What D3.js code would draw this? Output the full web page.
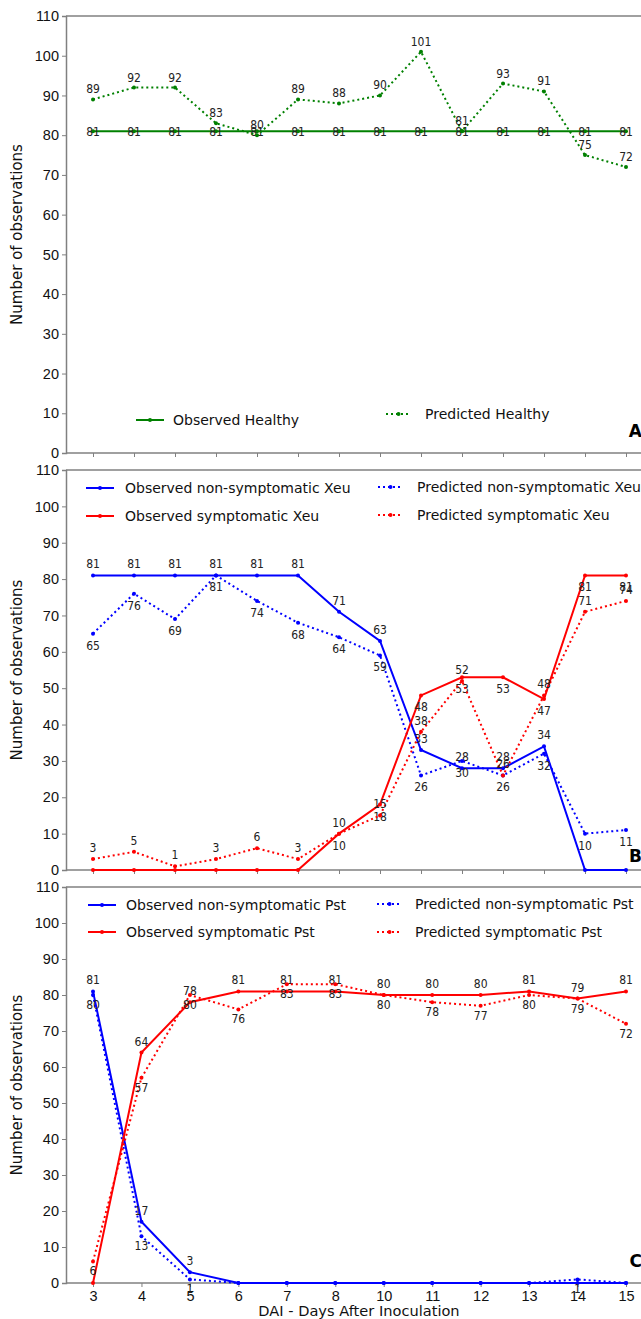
<!DOCTYPE html>
<html>
<head>
<meta charset="utf-8">
<script src="https://cdn.jsdelivr.net/npm/d3@7"></script>
<style>
  body { margin: 0; background: #fff; }
  svg { display: block; font-family: "DejaVu Sans", sans-serif; }
</style>
</head>
<body>
<svg id="chart" width="641" height="1319"></svg>
<script>
// panel A (14 time points, tick labels hidden)
const observedHealthy = [81, 81, 81, 81, 81, 81, 81, 81, 81, 81, 81, 81, 81, 81];
const predictedHealthy = [89, 92, 92, 83, 80, 89, 88, 90, 101, 81, 93, 91, 75, 72];

// panel B - Xeu
const obsNonSympXeu = [81, 81, 81, 81, 81, 81, 71, 63, 33, 28, 28, 34, 0, 0];
const predNonSympXeu = [65, 76, 69, 81, 74, 68, 64, 59, 26, 30, 26, 32, 10, 11];
const obsSympXeu = [0, 0, 0, 0, 0, 0, 10, 18, 48, 53, 53, 47, 81, 81];
const predSympXeu = [3, 5, 1, 3, 6, 3, 10, 15, 38, 52, 26, 48, 71, 74];

// panel C - Pst
const daysC = ['3', '4', '5', '6', '7', '8', '10', '11', '12', '13', '14', '15'];
const obsNonSympPst = [81, 17, 3, 0, 0, 0, 0, 0, 0, 0, 0, 0];
const predNonSympPst = [80, 13, 1, 0, 0, 0, 0, 0, 0, 0, 1, 0];
const obsSympPst = [0, 64, 78, 81, 81, 81, 80, 80, 80, 81, 79, 81];
const predSympPst = [6, 57, 80, 76, 83, 83, 80, 78, 77, 80, 79, 72];

const yTicks = [0, 10, 20, 30, 40, 50, 60, 70, 80, 90, 100, 110];

const GREEN = '#008000', BLUE = '#0000ff', RED = '#ff0000', SPINE = '#808080';
const svg = d3.select('#chart');
const left = 66, right = 655;
const firstX = 93, lastX = 626;

function drawPanel(cfg) {
  const g = svg.append('g');
  const x = d3.scalePoint().domain(cfg.cats).range([firstX, lastX]);
  const y = d3.scaleLinear().domain([0, 110]).range([cfg.bottom, cfg.top]);

  // frame
  g.append('line').attr('x1', left).attr('x2', right).attr('y1', cfg.top).attr('y2', cfg.top)
    .attr('stroke', SPINE).attr('stroke-width', 1.5);

  const yAxis = g.append('g').attr('transform', `translate(${left},0)`)
    .call(d3.axisLeft(y).tickValues(yTicks).tickSize(4).tickPadding(3));
  yAxis.select('.domain').attr('stroke', SPINE).attr('stroke-width', 1.5);
  yAxis.selectAll('.tick line').attr('stroke', SPINE);
  yAxis.selectAll('text').attr('font-size', 14.5).attr('fill', '#111');

  const xAxis = g.append('g').attr('transform', `translate(0,${cfg.bottom})`)
    .call(d3.axisBottom(x).tickSize(4).tickPadding(4)
      .tickFormat(cfg.showX ? (d => d) : () => ''));
  xAxis.select('.domain').attr('d', `M${left},0H${right}`).attr('stroke', SPINE).attr('stroke-width', 1.5);
  xAxis.selectAll('.tick line').attr('stroke', SPINE);
  xAxis.selectAll('text').attr('font-size', 14.5).attr('fill', '#111');

  // y title
  g.append('text')
    .attr('transform', `translate(22,${(cfg.top + cfg.bottom) / 2}) rotate(-90)`)
    .attr('text-anchor', 'middle').attr('font-size', 15).attr('fill', '#111')
    .text('Number of observations');

  // series
  cfg.series.forEach(s => {
    const pts = s.values.map((v, i) => [x(cfg.cats[i]), y(v)]);
    g.append('path').attr('d', d3.line()(pts))
      .attr('fill', 'none').attr('stroke', s.color).attr('stroke-width', 2)
      .attr('stroke-dasharray', s.dotted ? '2,3' : null);
    g.selectAll(null).data(pts).enter().append('circle')
      .attr('cx', d => d[0]).attr('cy', d => d[1]).attr('r', 2).attr('fill', s.color);
    g.selectAll(null).data(s.values.map((v, i) => ({ v, p: pts[i] })).filter(d => d.v !== 0))
      .enter().append('text')
      .attr('x', d => d.p[0]).attr('y', d => d.p[1] + s.dy)
      .attr('text-anchor', 'middle').attr('font-size', 12).attr('fill', '#222')
      .attr('font-stretch', 'condensed')
      .text(d => d.v);
  });

  // legend
  cfg.legend.forEach(l => {
    const lg = g.append('g').attr('transform', `translate(${l.x},${l.y})`);
    lg.append('line').attr('x1', 0).attr('x2', l.w).attr('stroke', l.color).attr('stroke-width', 2)
      .attr('stroke-dasharray', l.dotted ? '2,3' : null);
    lg.append('circle').attr('cx', l.w / 2).attr('r', 2).attr('fill', l.color);
    lg.append('text').attr('x', l.tx).attr('y', 5).attr('font-size', 14).attr('fill', '#111')
      .text(l.label);
  });

  g.append('text').attr('x', 642).attr('y', cfg.bottom - cfg.letterUp).attr('text-anchor', 'end')
    .attr('font-size', 17).attr('font-weight', 'bold').attr('fill', '#000').text(cfg.letter);
  return g;
}

const idx14 = d3.range(14);

drawPanel({
  cats: idx14, top: 16, bottom: 453, showX: false, letter: 'A', letterUp: 16,
  series: [
    { values: observedHealthy, color: GREEN, dotted: false, dy: 5 },
    { values: predictedHealthy, color: GREEN, dotted: true, dy: -6 }
  ],
  legend: [
    { x: 136, y: 420, w: 28, tx: 37, color: GREEN, dotted: false, label: 'Observed Healthy' },
    { x: 386, y: 414, w: 25, tx: 39, color: GREEN, dotted: true, label: 'Predicted Healthy' }
  ]
});

drawPanel({
  cats: idx14, top: 470, bottom: 870, showX: false, letter: 'B', letterUp: 8,
  series: [
    { values: obsNonSympXeu, color: BLUE, dotted: false, dy: -7 },
    { values: predNonSympXeu, color: BLUE, dotted: true, dy: 16 },
    { values: obsSympXeu, color: RED, dotted: false, dy: 16 },
    { values: predSympXeu, color: RED, dotted: true, dy: -7 }
  ],
  legend: [
    { x: 86, y: 488, w: 28, tx: 39, color: BLUE, dotted: false, label: 'Observed non-symptomatic Xeu' },
    { x: 86, y: 516, w: 28, tx: 39, color: RED, dotted: false, label: 'Observed symptomatic Xeu' },
    { x: 378, y: 487, w: 25, tx: 39, color: BLUE, dotted: true, label: 'Predicted non-symptomatic Xeu' },
    { x: 378, y: 515, w: 25, tx: 39, color: RED, dotted: true, label: 'Predicted symptomatic Xeu' }
  ]
});

drawPanel({
  cats: daysC, top: 887, bottom: 1283, showX: true, letter: 'C', letterUp: 16,
  series: [
    { values: obsNonSympPst, color: BLUE, dotted: false, dy: -7 },
    { values: predNonSympPst, color: BLUE, dotted: true, dy: 14 },
    { values: obsSympPst, color: RED, dotted: false, dy: -7 },
    { values: predSympPst, color: RED, dotted: true, dy: 14 }
  ],
  legend: [
    { x: 88, y: 905, w: 28, tx: 38, color: BLUE, dotted: false, label: 'Observed non-symptomatic Pst' },
    { x: 88, y: 932, w: 28, tx: 38, color: RED, dotted: false, label: 'Observed symptomatic Pst' },
    { x: 377, y: 904, w: 25, tx: 38, color: BLUE, dotted: true, label: 'Predicted non-symptomatic Pst' },
    { x: 377, y: 932, w: 25, tx: 38, color: RED, dotted: true, label: 'Predicted symptomatic Pst' }
  ]
});

svg.append('text').attr('x', 359).attr('y', 1316).attr('text-anchor', 'middle')
  .attr('font-size', 14.6).attr('fill', '#111').text('DAI - Days After Inoculation');
</script>
</body>
</html>
